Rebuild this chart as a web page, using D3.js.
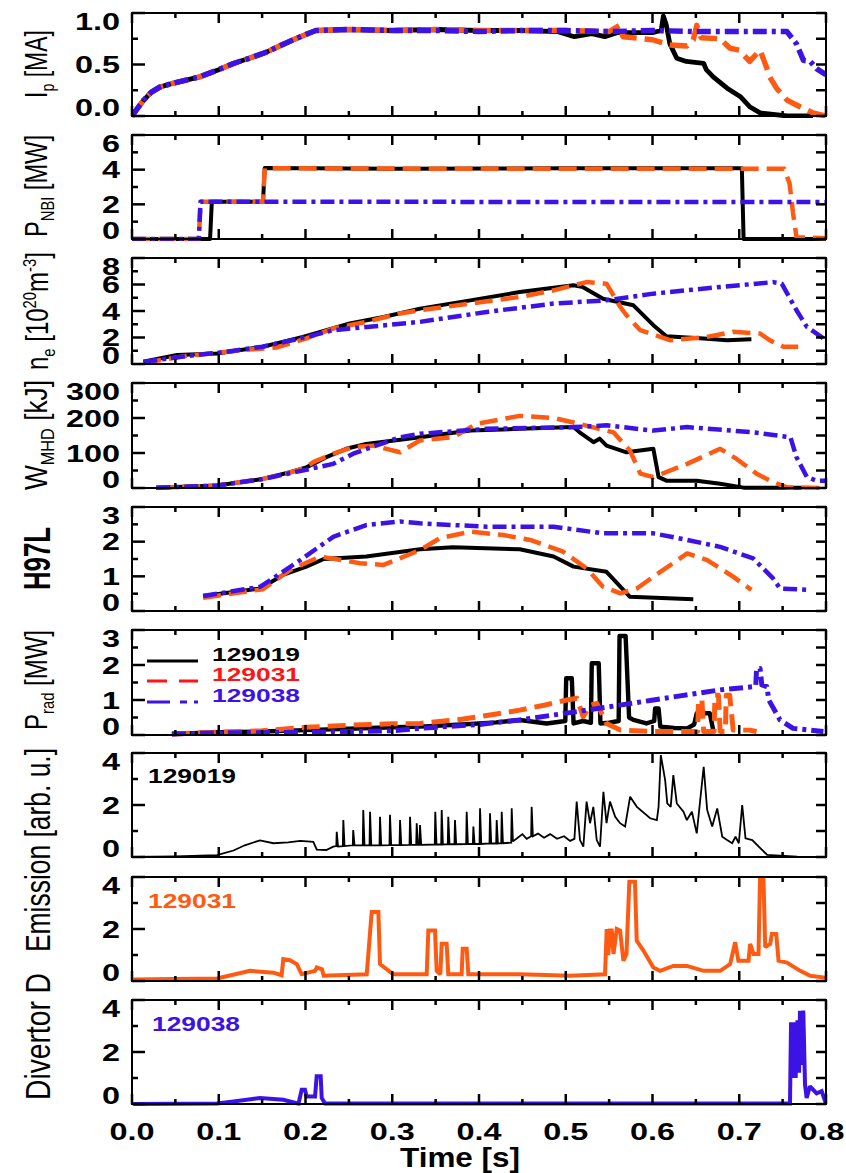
<!DOCTYPE html>
<html>
<head>
<meta charset="utf-8">
<script src="https://cdn.jsdelivr.net/npm/d3@7"></script>
<style>
  body { margin: 0; background: #fff; }
  svg { display: block; font-family: "Liberation Sans", Arial, Helvetica, sans-serif; }
</style>
</head>
<body>
<svg id="chart" width="846" height="1173"></svg>
<script>
// ---------------- data ----------------
const shots = ["129019", "129031", "129038"];

// time axis (s)
const timeTicks = [0, 0.1, 0.2, 0.3, 0.4, 0.5, 0.6, 0.7, 0.8];
const timeMinor = [0.05, 0.15, 0.25, 0.35, 0.45, 0.55, 0.65, 0.75];

// y tick labels per panel
const ipTicks = [0, 0.5, 1.0],      ipMinor = [0.25, 0.75];
const pnbiTicks = [0, 2, 4, 6],     pnbiMinor = [1, 3, 5];
const neTicks = [0, 2, 4, 6, 8],    neMinor = [1, 3, 5, 7];
const wTicks = [0, 100, 200, 300],  wMinor = [50, 150, 250];
const hTicks = [0, 1, 2, 3],        hMinor = [0.5, 1.5, 2.5];
const pradTicks = [0, 1, 2, 3],     pradMinor = [0.5, 1.5, 2.5];
const emTicks = [0, 2, 4],          emMinor = [1, 3];

// plasma current Ip [MA]
const ip129019 = [[0,0],[0.006,0.07],[0.013,0.15],[0.022,0.23],[0.032,0.28],[0.048,0.32],[0.078,0.38],[0.1,0.45],[0.117,0.51],[0.135,0.56],[0.155,0.62],[0.17,0.68],[0.186,0.74],[0.2,0.79],[0.212,0.83],[0.25,0.84],[0.3,0.83],[0.35,0.84],[0.4,0.83],[0.45,0.83],[0.49,0.82],[0.51,0.77],[0.53,0.8],[0.545,0.77],[0.56,0.81],[0.6,0.81],[0.61,0.83],[0.6125,0.97],[0.616,0.88],[0.62,0.7],[0.628,0.56],[0.639,0.53],[0.659,0.51],[0.662,0.45],[0.67,0.38],[0.686,0.27],[0.701,0.19],[0.712,0.09],[0.724,0.03],[0.755,0.0],[0.785,0.0]];
const ip129031 = [[0,0],[0.006,0.07],[0.013,0.15],[0.022,0.23],[0.032,0.28],[0.048,0.32],[0.078,0.38],[0.1,0.45],[0.117,0.51],[0.135,0.56],[0.155,0.62],[0.17,0.68],[0.186,0.74],[0.2,0.79],[0.212,0.83],[0.25,0.84],[0.3,0.83],[0.35,0.84],[0.4,0.83],[0.45,0.83],[0.5,0.83],[0.55,0.82],[0.562,0.88],[0.566,0.77],[0.6,0.74],[0.62,0.69],[0.64,0.68],[0.647,0.74],[0.651,0.88],[0.656,0.76],[0.678,0.75],[0.689,0.66],[0.7,0.64],[0.712,0.53],[0.724,0.64],[0.732,0.46],[0.735,0.38],[0.743,0.27],[0.755,0.155],[0.77,0.09],[0.785,0.03],[0.8,0.0]];
const ip129038 = [[0,0],[0.006,0.07],[0.013,0.15],[0.022,0.23],[0.032,0.28],[0.048,0.32],[0.078,0.38],[0.1,0.45],[0.117,0.51],[0.135,0.56],[0.155,0.62],[0.17,0.68],[0.186,0.74],[0.2,0.79],[0.212,0.83],[0.25,0.84],[0.3,0.83],[0.35,0.83],[0.4,0.82],[0.45,0.83],[0.5,0.83],[0.55,0.82],[0.6,0.83],[0.65,0.82],[0.7,0.82],[0.755,0.82],[0.766,0.7],[0.774,0.54],[0.782,0.53],[0.789,0.46],[0.8,0.4]];

// NBI power [MW]
const pnbi129019 = [[0,0],[0.09,0],[0.092,2.15],[0.151,2.15],[0.153,4.1],[0.3,4.05],[0.5,4.08],[0.703,4.08],[0.705,0],[0.8,0]];
const pnbi129031 = [[0,0],[0.077,0],[0.079,2.15],[0.151,2.15],[0.153,4.08],[0.4,4.05],[0.752,4.05],[0.758,3.2],[0.762,1.5],[0.766,0.1],[0.8,0.05]];
const pnbi129038 = [[0,0],[0.077,0],[0.079,2.15],[0.8,2.13]];

// line-averaged density ne [1e20 m^-3]
const ne129019 = [[0.013,0.17],[0.052,0.68],[0.098,0.8],[0.151,1.3],[0.197,2.05],[0.251,3.06],[0.29,3.55],[0.332,4.18],[0.39,4.8],[0.447,5.43],[0.509,5.94],[0.52,5.8],[0.543,4.93],[0.578,4.43],[0.601,2.93],[0.616,2.1],[0.659,1.93],[0.686,1.8],[0.714,1.86]];
const ne129031 = [[0.013,0.1],[0.062,0.6],[0.128,1.05],[0.167,1.25],[0.201,1.93],[0.232,2.68],[0.27,3.18],[0.309,3.81],[0.332,4.06],[0.39,4.56],[0.447,5.06],[0.486,5.56],[0.524,6.18],[0.547,6.06],[0.563,4.3],[0.57,3.68],[0.586,2.55],[0.62,1.8],[0.659,2.0],[0.693,2.43],[0.724,2.3],[0.735,1.8],[0.751,1.3],[0.768,1.3]];
const ne129038 = [[0.013,0.15],[0.062,0.6],[0.1,0.85],[0.15,1.3],[0.194,1.93],[0.232,2.55],[0.332,3.18],[0.409,3.93],[0.486,4.56],[0.547,4.81],[0.601,5.31],[0.678,5.81],[0.739,6.18],[0.749,6.06],[0.766,4.06],[0.778,2.8],[0.8,1.8]];

// stored energy W_MHD [kJ]
const w129019 = [[0.028,0.6],[0.098,7],[0.151,26],[0.182,45],[0.201,59],[0.224,88],[0.247,112],[0.27,126],[0.332,145],[0.39,164],[0.447,169],[0.509,174],[0.516,159],[0.532,131],[0.539,141],[0.547,121],[0.57,102],[0.601,112],[0.607,31],[0.616,21],[0.651,21],[0.678,12],[0.705,1],[0.772,1]];
const w129031 = [[0.028,0.6],[0.098,7],[0.151,26],[0.182,44],[0.2,58],[0.209,74],[0.232,98],[0.255,117],[0.278,121],[0.309,102],[0.332,136],[0.37,145],[0.397,183],[0.447,206],[0.486,200],[0.516,183],[0.555,159],[0.574,107],[0.586,41],[0.601,31],[0.64,69],[0.678,112],[0.697,83],[0.72,41],[0.739,17],[0.755,2],[0.8,0]];
const w129038 = [[0.028,0.6],[0.098,7],[0.151,26],[0.182,42],[0.232,69],[0.255,98],[0.309,145],[0.332,155],[0.409,169],[0.509,174],[0.547,179],[0.601,164],[0.64,174],[0.716,159],[0.759,145],[0.766,88],[0.778,31],[0.789,21],[0.8,21]];

// confinement factor H97L
const h129019 = [[0.082,0.43],[0.148,0.65],[0.174,1.04],[0.201,1.28],[0.221,1.5],[0.27,1.57],[0.332,1.78],[0.37,1.84],[0.447,1.78],[0.486,1.57],[0.509,1.28],[0.547,1.13],[0.574,0.41],[0.647,0.34]];
const h129031 = [[0.082,0.38],[0.151,0.63],[0.182,1.18],[0.217,1.57],[0.263,1.38],[0.29,1.33],[0.332,1.76],[0.355,2.1],[0.39,2.29],[0.428,2.19],[0.459,2.05],[0.497,1.71],[0.524,1.23],[0.543,0.7],[0.563,0.51],[0.582,0.65],[0.601,0.99],[0.64,1.66],[0.663,1.47],[0.693,0.99],[0.714,0.61]];
const h129038 = [[0.082,0.43],[0.148,0.7],[0.194,1.47],[0.232,2.14],[0.27,2.48],[0.309,2.58],[0.332,2.53],[0.409,2.43],[0.486,2.43],[0.543,2.24],[0.601,2.24],[0.64,2.05],[0.678,1.85],[0.716,1.52],[0.739,0.94],[0.747,0.65],[0.778,0.61]];

// radiated power [MW]
const prad129019 = [[0.046,0.03],[0.1,0.08],[0.15,0.1],[0.2,0.14],[0.25,0.18],[0.3,0.22],[0.332,0.24],[0.38,0.3],[0.42,0.36],[0.447,0.43],[0.478,0.33],[0.4995,0.4],[0.5005,1.62],[0.507,1.62],[0.509,0.33],[0.52,0.4],[0.529,0.35],[0.53,2.05],[0.538,2.05],[0.54,0.33],[0.55,0.35],[0.561,0.4],[0.562,2.83],[0.569,2.83],[0.573,0.5],[0.578,0.43],[0.593,0.33],[0.602,0.4],[0.603,0.76],[0.607,0.76],[0.609,0.24],[0.625,0.2],[0.64,0.19],[0.648,0.3],[0.651,0.62],[0.666,0.62],[0.67,0.14]];
const prad129031 = [[0.046,0.03],[0.1,0.08],[0.15,0.12],[0.2,0.22],[0.25,0.28],[0.3,0.32],[0.332,0.33],[0.38,0.45],[0.42,0.6],[0.447,0.71],[0.475,0.85],[0.501,1.0],[0.513,1.05],[0.52,0.52],[0.528,0.85],[0.536,0.9],[0.547,0.33],[0.563,0.14],[0.601,0.1],[0.652,0.1],[0.653,1.0],[0.657,1.0],[0.659,0.1],[0.671,0.1],[0.672,1.14],[0.676,1.14],[0.678,0.1],[0.684,0.1],[0.685,1.14],[0.689,1.14],[0.693,0.14],[0.712,0.14],[0.72,0.1]];
const prad129038 = [[0.046,0.03],[0.1,0.06],[0.2,0.08],[0.3,0.12],[0.332,0.19],[0.4,0.3],[0.447,0.43],[0.524,0.71],[0.601,1.0],[0.678,1.29],[0.716,1.38],[0.719,1.4],[0.72,1.9],[0.724,1.9],[0.726,1.43],[0.732,1.38],[0.734,1.0],[0.747,0.43],[0.762,0.19],[0.797,0.1]];

// divertor D emission [arb. u.]
const da129019 = [[0,0],[0.05,0.02],[0.098,0.07],[0.117,0.25],[0.13,0.45],[0.1475,0.64],[0.163,0.53],[0.18,0.56],[0.194,0.62],[0.209,0.58],[0.213,0.28],[0.224,0.27],[0.232,0.4],
  [0.2355,0.42],[0.236,0.97],[0.2375,0.4],[0.243,0.42],[0.2436,1.42],[0.245,0.42],[0.2545,0.45],[0.255,1.04],[0.2565,0.45],
  [0.266,0.45],[0.2666,1.81],[0.268,0.45],[0.2738,0.45],[0.2744,1.74],[0.2758,0.45],[0.2853,0.45],[0.2859,1.55],[0.2873,0.45],
  [0.2968,0.46],[0.2974,1.62],[0.2988,0.46],[0.3084,0.46],[0.309,1.42],[0.3104,0.46],[0.3199,0.47],[0.3205,1.55],[0.3219,0.47],
  [0.3276,0.47],[0.3282,1.3],[0.3296,0.47],[0.3314,0.47],[0.332,1.23],[0.3334,0.47],[0.349,0.48],[0.3496,1.74],[0.351,0.48],
  [0.3564,0.48],[0.357,1.81],[0.3584,0.48],[0.364,0.49],[0.3646,1.55],[0.366,0.49],[0.3717,0.49],[0.3723,1.42],[0.3737,0.49],
  [0.3852,0.5],[0.3858,1.74],[0.3872,0.5],[0.3929,0.5],[0.3935,1.17],[0.3949,0.5],[0.4006,0.5],[0.4012,1.87],[0.4026,0.5],
  [0.4121,0.52],[0.4127,1.68],[0.4141,0.52],[0.4198,0.52],[0.4204,1.42],[0.4218,0.52],[0.4256,0.53],[0.4262,1.74],[0.4276,0.53],
  [0.4371,0.55],[0.4377,1.87],[0.4391,0.6],[0.445,0.75],[0.45,0.88],[0.455,0.7],[0.4601,0.8],[0.4607,1.93],[0.4621,0.8],
  [0.468,0.9],[0.475,0.74],[0.482,0.88],[0.49,0.7],[0.498,0.8],[0.505,0.62],[0.51,0.7],
  [0.5126,2.13],[0.5164,0.65],[0.5203,0.4],[0.524,2.13],[0.528,1.3],[0.5318,1.93],[0.5357,0.65],[0.5395,0.4],[0.5434,2.51],
  [0.547,1.3],[0.551,2.13],[0.557,1.55],[0.5626,1.3],[0.5684,1.17],[0.5742,2.32],[0.582,1.93],[0.5973,1.49],[0.605,1.42],
  [0.607,1.93],[0.6096,3.92],[0.6146,2.95],[0.617,2.06],[0.621,1.93],[0.624,3.15],[0.628,2.06],[0.6357,1.74],[0.6396,1.42],
  [0.6454,1.74],[0.651,0.91],[0.659,3.47],[0.663,1.81],[0.6688,1.17],[0.6746,1.87],[0.6804,0.78],[0.686,0.65],[0.6918,0.53],
  [0.6957,0.78],[0.6995,0.53],[0.7034,2.0],[0.7072,0.72],[0.715,0.65],[0.7245,0.33],[0.7322,0.08],[0.7668,0.01]];
const da129031 = [[0.0015,0.06],[0.098,0.1],[0.136,0.39],[0.163,0.32],[0.1725,0.22],[0.1744,0.84],[0.182,0.8],[0.19,0.65],[0.1956,0.26],[0.211,0.39],[0.213,0.52],[0.219,0.45],[0.221,0.2],
  [0.2706,0.26],[0.2763,2.65],[0.284,2.65],[0.2859,0.65],[0.301,0.26],[0.3397,0.26],[0.3416,1.94],[0.3493,1.94],[0.3512,0.39],[0.3554,0.26],
  [0.357,1.43],[0.3627,1.43],[0.3646,0.26],[0.38,0.26],[0.3812,1.24],[0.3858,1.24],[0.3877,0.26],[0.4473,0.26],[0.505,0.2],[0.5453,0.26],
  [0.5472,2.0],[0.549,1.0],[0.551,1.94],[0.553,1.94],[0.555,1.04],[0.5588,2.0],[0.5626,1.94],[0.5665,0.78],[0.57,1.04],[0.5733,3.82],
  [0.5798,3.82],[0.5818,1.55],[0.5895,1.17],[0.601,0.52],[0.6087,0.39],[0.624,0.58],[0.6396,0.58],[0.659,0.39],[0.678,0.39],[0.6895,0.65],
  [0.6953,1.49],[0.699,0.78],[0.7107,0.78],[0.7126,1.43],[0.7164,1.04],[0.7222,1.04],[0.724,4.0],[0.7279,4.0],[0.7299,1.3],[0.7357,1.43],
  [0.7376,1.81],[0.7426,1.81],[0.7453,0.78],[0.7549,0.71],[0.7703,0.39],[0.7818,0.2],[0.799,0.13]];
const da129038 = [[0.0015,0],[0.098,0.02],[0.117,0.1],[0.1475,0.23],[0.1744,0.16],[0.19,0.03],[0.192,0.02],[0.1956,0.55],[0.1994,0.55],[0.2013,0.29],
  [0.211,0.29],[0.2129,1.07],[0.2175,1.07],[0.2187,0.23],[0.2225,0.02],[0.4,0.02],[0.6,0.02],[0.7585,0.02],[0.7597,3.14],[0.761,1.0],
  [0.763,3.14],[0.765,1.0],[0.767,3.14],[0.7681,3.14],[0.769,1.2],[0.77,3.59],[0.772,1.5],[0.7738,3.59],[0.7758,0.75],[0.7777,0.23],
  [0.7815,0.68],[0.7892,0.41],[0.795,0.49],[0.8,0.02]];

// ---------------- layout ----------------
const svg = d3.select("#chart");
const X0 = 132, X1 = 826;
const x = d3.scaleLinear().domain([0, 0.8]).range([X0, X1]);

const orange = "#ff5a12", blue = "#3d12e4", red = "#ff1414";
const styles = [
  { color: "#000", dash: null, width: 4 },
  { color: orange, dash: "18,8", width: 4.5 },
  { color: blue, dash: "14,5,4,5", width: 4.5 }
];

const fmt1 = d3.format(".1f"), fmt0 = d3.format("d");

const panels = [
  { top: 13,   bottom: 116,  max: 1,   ticks: ipTicks,   minor: ipMinor,   fmt: fmt1, lw: 1.2, series: [ip129019, ip129031, ip129038] },
  { top: 135,  bottom: 239,  max: 6,   ticks: pnbiTicks, minor: pnbiMinor, fmt: fmt0, lw: 1,   series: [pnbi129019, pnbi129031, pnbi129038] },
  { top: 258,  bottom: 364,  max: 8,   ticks: neTicks,   minor: neMinor,   fmt: fmt0, lw: 1,   series: [ne129019, ne129031, ne129038] },
  { top: 383,  bottom: 488,  max: 300, ticks: wTicks,    minor: wMinor,    fmt: fmt0, lw: 1,   series: [w129019, w129031, w129038] },
  { top: 507,  bottom: 611,  max: 3,   ticks: hTicks,    minor: hMinor,    fmt: fmt0, lw: 1,   series: [h129019, h129031, h129038] },
  { top: 630,  bottom: 735,  max: 3,   ticks: pradTicks, minor: pradMinor, fmt: fmt0, lw: 1.1, series: [prad129019, prad129031, prad129038] },
  { top: 753,  bottom: 857,  max: 4,   ticks: emTicks,   minor: emMinor,   fmt: fmt0, single: { data: da129019, color: "#000", width: 1.8 } },
  { top: 877,  bottom: 981,  max: 4,   ticks: emTicks,   minor: emMinor,   fmt: fmt0, single: { data: da129031, color: orange, width: 4 } },
  { top: 1000, bottom: 1104, max: 4,   ticks: emTicks,   minor: emMinor,   fmt: fmt0, single: { data: da129038, color: blue, width: 4 } }
];

const defs = svg.append("defs");

panels.forEach((p, i) => {
  const y = d3.scaleLinear().domain([0, p.max]).range([p.bottom, p.top]);
  const g = svg.append("g");

  defs.append("clipPath").attr("id", "clip" + i)
    .append("rect").attr("x", X0).attr("y", p.top - 1)
    .attr("width", X1 - X0).attr("height", p.bottom - p.top + 3);

  const line = d3.line().x(d => x(d[0])).y(d => y(d[1]));
  const lg = g.append("g").attr("clip-path", `url(#clip${i})`);

  if (p.series) {
    p.series.forEach((s, k) => {
      const st = styles[k];
      lg.append("path").datum(s).attr("d", line)
        .attr("fill", "none").attr("stroke", st.color)
        .attr("stroke-width", st.width * p.lw)
        .attr("stroke-linejoin", "round")
        .attr("stroke-dasharray", st.dash);
    });
  } else {
    lg.append("path").datum(p.single.data).attr("d", line)
      .attr("fill", "none").attr("stroke", p.single.color)
      .attr("stroke-width", p.single.width)
      .attr("stroke-linejoin", "miter").attr("stroke-miterlimit", 2);
  }

  // frame
  g.append("rect").attr("x", X0).attr("y", p.top)
    .attr("width", X1 - X0).attr("height", p.bottom - p.top)
    .attr("fill", "none").attr("stroke", "#000").attr("stroke-width", 2);

  // time ticks, top and bottom, pointing inwards
  const tAll = timeTicks.map(t => [t, 10]).concat(timeMinor.map(t => [t, 5]));
  tAll.forEach(([t, len]) => {
    g.append("line").attr("x1", x(t)).attr("x2", x(t))
      .attr("y1", p.bottom).attr("y2", p.bottom - len)
      .attr("stroke", "#000").attr("stroke-width", 2.5);
    g.append("line").attr("x1", x(t)).attr("x2", x(t))
      .attr("y1", p.top).attr("y2", p.top + len)
      .attr("stroke", "#000").attr("stroke-width", 2.5);
  });

  // value ticks: left (major long, minor short), right (uniform)
  p.ticks.concat(p.minor).forEach(v => {
    const major = p.ticks.includes(v);
    g.append("line").attr("x1", X0).attr("x2", X0 + (major ? 13 : 6))
      .attr("y1", y(v)).attr("y2", y(v))
      .attr("stroke", "#000").attr("stroke-width", 2.5);
    g.append("line").attr("x1", X1).attr("x2", X1 - 10)
      .attr("y1", y(v)).attr("y2", y(v))
      .attr("stroke", "#000").attr("stroke-width", 2.5);
  });

  // value tick labels, kept inside the frame height
  p.ticks.forEach(v => {
    const yc = Math.max(p.top + 8.5, Math.min(p.bottom - 8.5, y(v)));
    svg.append("text")
      .attr("transform", `translate(120,${yc}) scale(1.35,1)`)
      .attr("text-anchor", "end").attr("dy", "0.36em")
      .attr("font-size", 24).attr("font-weight", "bold")
      .text(p.fmt(v));
  });
});

// time tick labels
timeTicks.forEach(t => {
  svg.append("text")
    .attr("transform", `translate(${Math.min(x(t), 822)},1131) scale(1.35,1)`)
    .attr("text-anchor", "middle").attr("dy", "0.36em")
    .attr("font-size", 24).attr("font-weight", "bold")
    .text(fmt1(t));
});
svg.append("text").attr("x", 460).attr("y", 1167)
  .attr("text-anchor", "middle").attr("font-size", 27).attr("font-weight", "bold")
  .attr("textLength", 120).attr("lengthAdjust", "spacingAndGlyphs")
  .text("Time [s]");

// rotated axis titles with sub/superscripts
function axisTitle(parts, cx, cy, len, opts = {}) {
  const size = opts.size || 23, sy = opts.sy || 1.35;
  const t = svg.append("text")
    .attr("transform", `translate(${cx},${cy}) rotate(-90) scale(1,${sy})`)
    .attr("text-anchor", opts.anchor || "middle")
    .attr("font-size", size).attr("font-weight", opts.weight || "normal")
    .attr("textLength", len).attr("lengthAdjust", "spacingAndGlyphs");
  let shift = 0;
  parts.forEach(([s, kind]) => {
    const ts = t.append("tspan").text(s);
    let target = 0;
    if (kind === "sub") { ts.attr("font-size", size * 0.62); target = 5; }
    else if (kind === "sup") { ts.attr("font-size", size * 0.62); target = -9; }
    if (target !== shift) { ts.attr("dy", target - shift); shift = target; }
  });
}
axisTitle([["I"], ["p", "sub"], [" [MA]"]], 47, 64, 68);
axisTitle([["P"], ["NBI", "sub"], [" [MW]"]], 47, 186, 102);
axisTitle([["n"], ["e", "sub"], [" [10"], ["20", "sup"], ["m"], ["-3", "sup"], ["]"]], 48, 311, 118);
axisTitle([["W"], ["MHD", "sub"], [" [kJ]"]], 47, 435, 110);
axisTitle([["H97L"]], 50, 558.5, 63, { size: 26, sy: 1.45, weight: "bold" });
axisTitle([["P"], ["rad", "sub"], [" [MW]"]], 47, 680, 100);
axisTitle([["Divertor D"]], 50, 1100, 127, { size: 24, sy: 1.45, anchor: "start" });
axisTitle([["Emission [arb. u.]"]], 50, 952, 204, { size: 24, sy: 1.45, anchor: "start" });

// legend in the radiated-power panel
const legendY = [661, 681, 702];
const legendStyles = [
  { color: "#000", dash: null, text: "#000" },
  { color: red, dash: "20,12", text: red },
  { color: blue, dash: "23,10,7,7", text: blue }
];
shots.forEach((s, k) => {
  const st = legendStyles[k];
  svg.append("line").attr("x1", 147).attr("x2", 198)
    .attr("y1", legendY[k]).attr("y2", legendY[k])
    .attr("stroke", st.color).attr("stroke-width", 3)
    .attr("stroke-dasharray", st.dash);
  svg.append("text").attr("x", 212).attr("y", legendY[k])
    .attr("font-size", 19).attr("font-weight", "bold")
    .attr("textLength", 88).attr("lengthAdjust", "spacingAndGlyphs")
    .attr("fill", st.text).text(s);
});

// shot labels in the emission panels
const shotLabelY = [783, 908, 1031];
const shotLabelColor = ["#000", orange, blue];
shots.forEach((s, k) => {
  svg.append("text").attr("x", k === 2 ? 152 : 148).attr("y", shotLabelY[k])
    .attr("font-size", 21).attr("font-weight", "bold")
    .attr("textLength", 88).attr("lengthAdjust", "spacingAndGlyphs")
    .attr("fill", shotLabelColor[k]).text(s);
});
</script>
</body>
</html>
